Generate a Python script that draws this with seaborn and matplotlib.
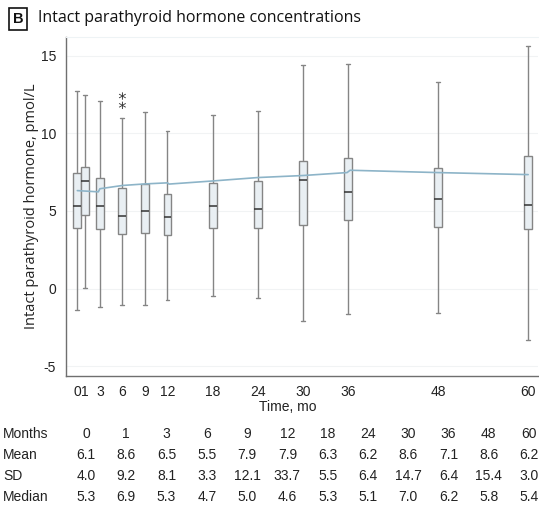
import numpy as np
import pandas as pd
import matplotlib
matplotlib.use("Agg")
import matplotlib.pyplot as plt
import seaborn as sns

# Visit months
months = [0, 1, 3, 6, 9, 12, 18, 24, 30, 36, 48, 60]

# Box-plot summaries of intact PTH (pmol/L) per visit
whisker_low = [-1.37, 0.05, -1.18, -1.05, -1.07, -0.71, -0.47, -0.58, -2.08, -1.63, -1.57, -3.28]
q1 = [3.90, 4.72, 3.82, 3.52, 3.58, 3.43, 3.88, 3.88, 4.10, 4.40, 3.99, 3.82]
median = [5.3, 6.9, 5.3, 4.7, 5.0, 4.6, 5.3, 5.1, 7.0, 6.2, 5.8, 5.4]
q3 = [7.42, 7.81, 7.10, 6.50, 6.72, 6.11, 6.80, 6.93, 8.20, 8.41, 7.75, 8.52]
whisker_high = [12.70, 12.46, 12.10, 11.00, 11.35, 10.17, 11.18, 11.46, 14.40, 14.44, 13.28, 15.62]

# Outlying values shown at month 6
outlier_months = [6, 6]
outlier_values = [12.4, 11.8]

# Fitted trajectory
curve_months = [0, 2.8, 3.0, 6, 9, 12, 12.2, 18, 24, 30, 35.9, 36.3, 48, 60]
curve_values = [6.31, 6.23, 6.43, 6.64, 6.74, 6.81, 6.73, 6.93, 7.15, 7.28, 7.47, 7.62, 7.47, 7.34]

# Summary table under the plot
table_months = ["0", "1", "3", "6", "9", "12", "18", "24", "30", "36", "48", "60"]
table_mean = ["6.1", "8.6", "6.5", "5.5", "7.9", "7.9", "6.3", "6.2", "8.6", "7.1", "8.6", "6.2"]
table_sd = ["4.0", "9.2", "8.1", "3.3", "12.1", "33.7", "5.5", "6.4", "14.7", "6.4", "15.4", "3.0"]
table_median = ["5.3", "6.9", "5.3", "4.7", "5.0", "4.6", "5.3", "5.1", "7.0", "6.2", "5.8", "5.4"]

sns.set_style("white")
plt.rcParams["font.family"] = ["Liberation Sans", "DejaVu Sans"]

# five-number rows per visit so the box reproduces the summary exactly
rows = []
for m, lo, a, md, b, hi in zip(months, whisker_low, q1, median, q3, whisker_high):
    for v in (lo, a, md, b, hi):
        rows.append({"month": m, "value": v})
df = pd.DataFrame(rows)

fig = plt.figure(figsize=(5.39, 5.11), dpi=100)
ax = fig.add_axes([0.122, 0.265, 0.876, 0.662])

box_edge = "#858585"
sns.boxplot(data=df, x="month", y="value", native_scale=True, orient="x",
            width=1.06, whis=np.inf, color="#e9eff3", saturation=1,
            linecolor=box_edge, linewidth=1.0,
            medianprops=dict(color="#333333", linewidth=1.1),
            ax=ax)

sns.scatterplot(x=outlier_months, y=outlier_values, marker="$*$", s=28,
                color="#333333", edgecolor="none", ax=ax, zorder=6)

sns.lineplot(x=curve_months, y=curve_values, color="#8db4c8", linewidth=1.2,
             ax=ax, zorder=7, sort=True)

ax.set_xlim(-1.54, 61.3)
ax.set_ylim(-5.6, 16.18)
ax.set_xticks(months)
ax.set_xticklabels([str(m) for m in months])
ax.set_yticks([-5, 0, 5, 10, 15])
ax.set_yticklabels(["-5", "0", "5", "10", "15"])
ax.tick_params(axis="both", direction="out", length=5, width=0.9,
               color="#777777", labelsize=10, labelcolor="#222222", pad=2)
ax.yaxis.grid(True, color="#f1f3f4", linewidth=0.8)
ax.set_axisbelow(True)

for s in ("left", "bottom"):
    ax.spines[s].set_color("#6f6f6f")
    ax.spines[s].set_linewidth(1.0)
ax.spines["right"].set_visible(False)
ax.spines["top"].set_color("#eef3f5")

ax.set_xlabel("Time, mo", fontsize=10, color="#222222")
ax.xaxis.set_label_coords(0.47, -0.093)
ax.xaxis.label.set_va("center")
ax.set_ylabel("Intact parathyroid hormone, pmol/L", fontsize=10.5,
              family=["Open Sans", "DejaVu Sans"], color="#222222", labelpad=1)

# Panel letter and title
fig.text(18 / 539, 1 - 19 / 511, "B", ha="center", va="center", fontsize=10.5,
         fontweight="bold", color="#111111",
         bbox=dict(boxstyle="square,pad=0.28", facecolor="white",
                   edgecolor="#111111", linewidth=1.2))
fig.text(38 / 539, 1 - 18 / 511, "Intact parathyroid hormone concentrations",
         ha="left", va="center", fontsize=11.5,
         family=["Open Sans", "DejaVu Sans"], color="#111111")

# Summary table
row_y = [434, 455, 476, 497]
col_x = np.linspace(86, 529, len(table_months))
for y, label, vals in zip(row_y, ["Months", "Mean", "SD", "Median"],
                          [table_months, table_mean, table_sd, table_median]):
    fig.text(3 / 539, 1 - y / 511, label, ha="left", va="center",
             fontsize=10, color="#222222")
    for x, v in zip(col_x, vals):
        fig.text(x / 539, 1 - y / 511, v, ha="center", va="center",
                 fontsize=10, color="#222222")

fig.savefig("out.png", dpi=100, facecolor="white")
